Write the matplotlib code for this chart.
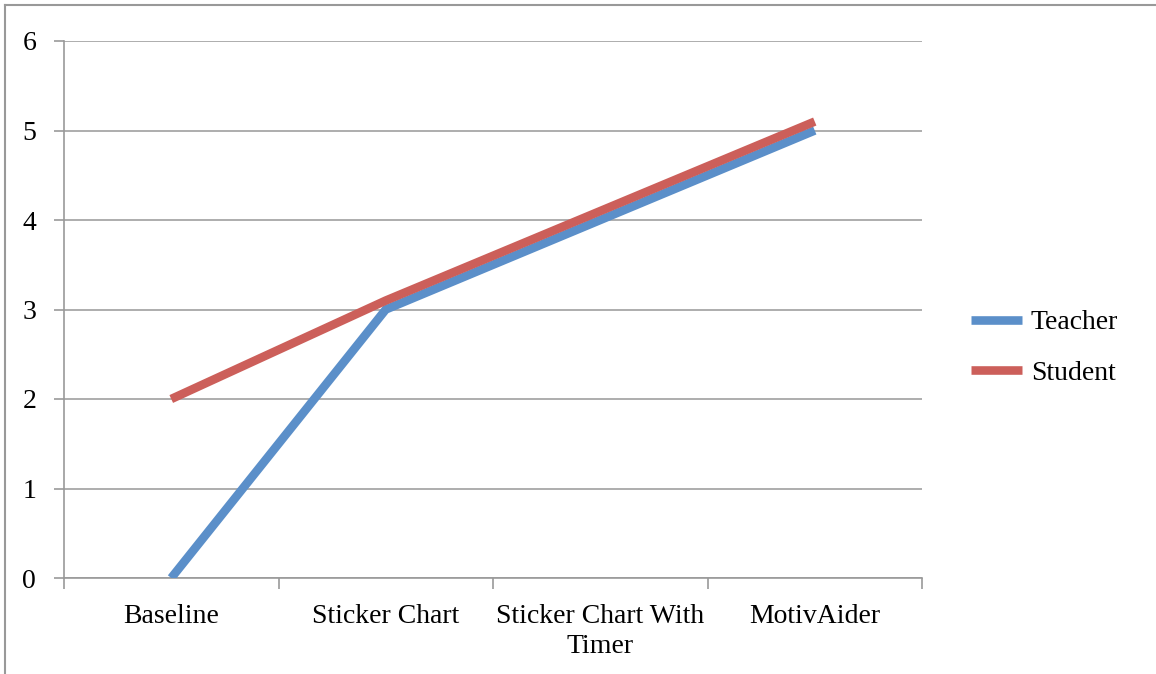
import matplotlib
matplotlib.use("Agg")
import matplotlib.pyplot as plt
from matplotlib.lines import Line2D

categories = ["Baseline", "Sticker Chart", "Sticker Chart With\nTimer", "MotivAider"]
teacher = [0, 3, 4, 5]
student = [2, 3.1, 4.1, 5.1]
yticks = [0, 1, 2, 3, 4, 5, 6]

W, H = 1156, 674
fig = plt.figure(figsize=(W / 100, H / 100), dpi=100)
plt.rcParams['font.family'] = ['Liberation Serif', 'DejaVu Serif']
FS = 20

ax = fig.add_axes([64 / W, (H - 578) / H, (922 - 64) / W, (578 - 41) / H])
x = list(range(len(categories)))
blue = "#5b8fc9"
red = "#cc5f5a"
ax.plot(x, teacher, color=blue, lw=6.2, solid_capstyle="butt", label="Teacher", zorder=3)
ax.plot(x, student, color=red, lw=6.2, solid_capstyle="butt", label="Student", zorder=3)

ax.set_xlim(-0.5, len(categories) - 0.5)
ax.set_ylim(0, 6)
ax.set_yticks(yticks)
ax.set_yticklabels([str(v) for v in yticks], fontsize=FS)
ax.yaxis.grid(True, color="#a0a0a0", lw=1.2)
ax.set_axisbelow(True)

ax.set_xticks(x)
ax.set_xticklabels(categories, fontsize=FS, linespacing=1.25)
ax.tick_params(axis="x", length=0, pad=19)
ax.tick_params(axis="y", length=7, width=1.2, color="#999999", pad=13)
# boundary ticks between categories
ax.set_xticks([i - 0.5 for i in range(len(categories) + 1)], minor=True)
ax.tick_params(axis="x", which="minor", length=8, width=1.2, color="#999999", direction="out")

for s in ["top", "right"]:
    ax.spines[s].set_visible(False)
for s in ["left", "bottom"]:
    ax.spines[s].set_color("#999999")
    ax.spines[s].set_linewidth(1.2)

handles = [Line2D([], [], color=blue, lw=6.2, solid_capstyle="butt"),
           Line2D([], [], color=red, lw=6.2, solid_capstyle="butt")]
fig.legend(handles, ["Teacher", "Student"], loc="center left",
           bbox_to_anchor=(946 / W, 1 - 348 / H), frameon=False, fontsize=FS,
           handlelength=1.85, handletextpad=0.3, labelspacing=0.9)

# outer chart border (partially visible)
fig.add_artist(Line2D([5 / W, 5 / W], [0, 1 - 5 / H], transform=fig.transFigure, color="#999999", lw=1.5))
fig.add_artist(Line2D([5 / W, 1], [1 - 5 / H, 1 - 5 / H], transform=fig.transFigure, color="#999999", lw=1.5))

fig.savefig("out.png", dpi=100)
